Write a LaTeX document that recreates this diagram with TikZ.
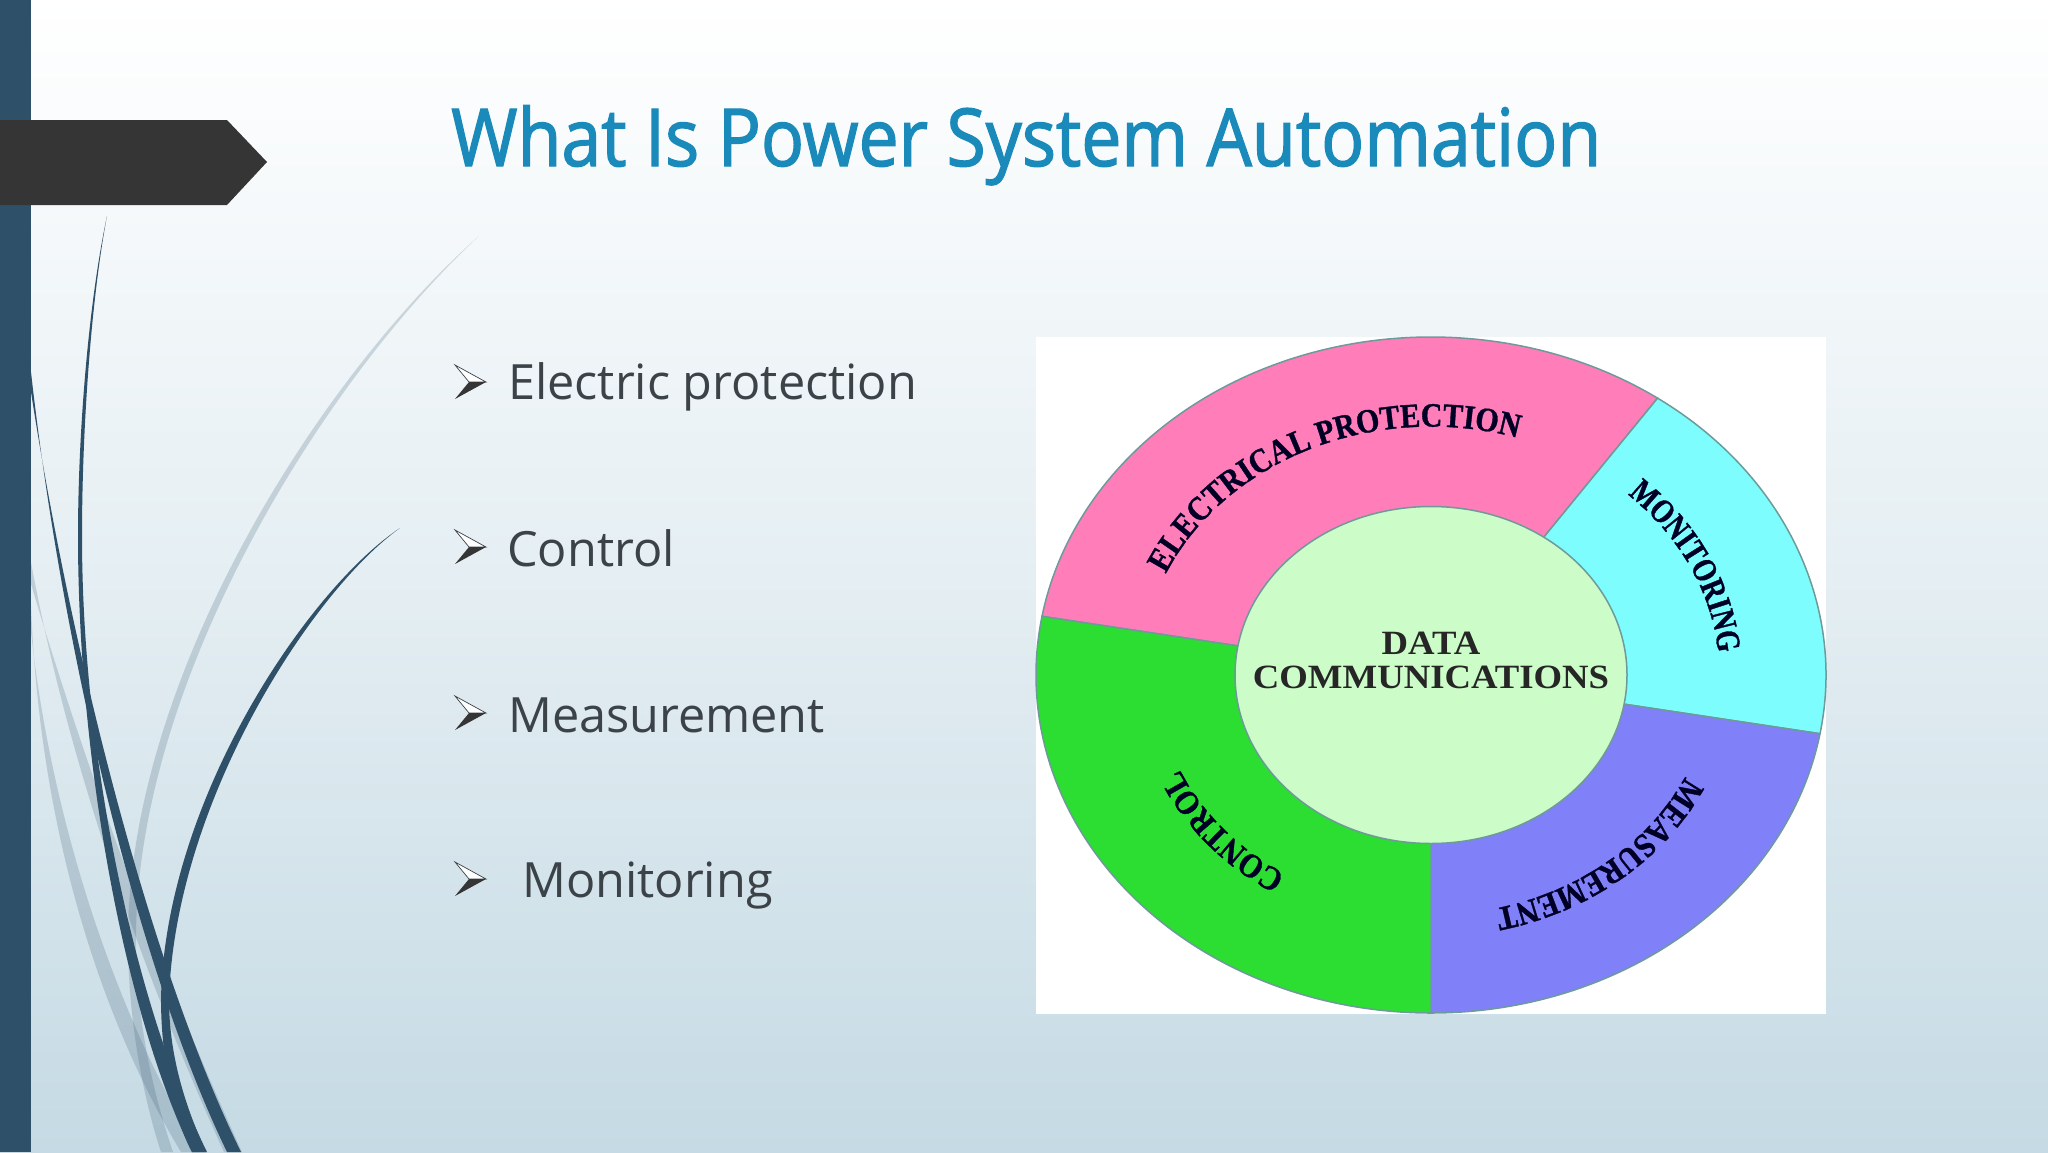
\documentclass[tikz,border=0pt]{standalone}
\usepackage{fontspec}
\usetikzlibrary{decorations.text}
\setmainfont{Liberation Serif}
\newfontfamily\titlefont[FakeStretch=0.895,FakeBold=1.6]{Open Sans}
\newfontfamily\bodyfont{Open Sans}
\newfontfamily\ringnarrow[FakeStretch=0.80,FakeBold=1]{Liberation Serif Bold}
\newfontfamily\ringwide[FakeStretch=0.88,FakeBold=1]{Liberation Serif Bold}
\newfontfamily\centrefont[FakeStretch=1.08]{Liberation Serif Bold}
\definecolor{barblue}{HTML}{2F5069}
\definecolor{pointer}{HTML}{363536}
\definecolor{titleblue}{HTML}{1A8ABB}
\definecolor{bodytext}{HTML}{3B4248}
\definecolor{bgbottom}{HTML}{C5DAE4}
\definecolor{ringline}{HTML}{6E9A9A}
\definecolor{ringpink}{HTML}{FF7DB8}
\definecolor{ringcyan}{HTML}{7DFDFD}
\definecolor{ringblue}{HTML}{8080F8}
\definecolor{ringgreen}{HTML}{2CDD32}
\definecolor{ringcentre}{HTML}{CCFCC8}
\tikzset{
  darkcurve/.style={fill=barblue},
  graycurve/.style={fill=barblue,fill opacity=0.2},
  bodyline/.style={anchor=base west,inner sep=0pt,text=bodytext,font=\bodyfont\fontsize{48.6}{48.6}\selectfont},
  sector/.style={draw=ringline,line width=1.5pt,fill=#1},
}
\newcommand{\ringsector}[3]{\path[sector=#1] (ringc) -- ++(#2:395 and 338) arc[start angle=#2,end angle=#3,x radius=395,y radius=338] -- cycle;}
\newcommand{\ringlabel}[5]{\path[decorate,decoration={text along path,text align={left},text={|#5\fontsize{34}{34}\selectfont\color{black!85!blue}|#1}}] (ringc) ++(#2:#4*395 and #4*338) arc[start angle=#2,end angle=#3,x radius=#4*395,y radius=#4*338];}
\begin{document}
\begin{tikzpicture}[x=1pt,y=-1pt]
\useasboundingbox (0,0) rectangle (2048,1152);
\clip (0,0) rectangle (2048,1152);
% background
\shade[top color=white,bottom color=bgbottom,middle color=white!55!bgbottom] (0,0) rectangle (2048,1152);
% gray sweeps
\path[graycurve] (31,562) .. controls (68,764) and (143,974) .. (224,1152) -- (242,1152) .. controls (157,966) and (82,756) .. (31,584) -- cycle;
\path[graycurve] (31,604) .. controls (39,824) and (98,1014) .. (181,1152) -- (199,1152) .. controls (112,1006) and (51,816) .. (31,632) -- cycle;
\path[graycurve] (479,236) .. controls (318,378) and (128,680) .. (128,939) .. controls (128,1020) and (143,1097) .. (161,1152) -- (173,1152) .. controls (153,1093) and (136,1020) .. (136,939) .. controls (136,682) and (322,382) .. (479,236) -- cycle;
% dark sweeps
\path[darkcurve] (107,216) .. controls (89,300) and (78,430) .. (78,536) .. controls (78,760) and (124,1012) .. (192,1152) -- (207,1152) .. controls (136,1008) and (82,760) .. (82,536) .. controls (82,430) and (91,300) .. (107,216) -- cycle;
\path[darkcurve] (31,372) .. controls (61,640) and (135,962) .. (227,1152) -- (241,1152) .. controls (146,958) and (69,638) .. (31,392) -- cycle;
\path[darkcurve] (400,528) .. controls (308,589) and (165,800) .. (161,999) .. controls (161,1060) and (174,1118) .. (192,1152) -- (206,1152) .. controls (188,1112) and (169,1060) .. (169,999) .. controls (175,802) and (312,591) .. (400,528) -- cycle;
% left bar and pointer
\fill[barblue] (0,0) rectangle (31,1152);
\fill[pointer] (0,120) -- (227,120) -- (267,162) -- (227,205) -- (0,205) -- cycle;
% title
\node[anchor=base west,inner sep=0pt,text=titleblue,font=\titlefont\fontsize{80}{80}\selectfont] (title) at (451,166) {What Is Power System Automation};
% bullets
\foreach \yy in {382,547,713,879}{
  \draw[bodytext,line width=0.7pt,fill=white,line join=miter] (455,\yy-17) -- (486,\yy) -- (469,\yy) -- cycle;
  \fill[pointer] (455,\yy+17) -- (486,\yy) -- (469,\yy) -- cycle;
}
\node[bodyline] (b1) at (508,399) {Electric protection};
\node[bodyline] (b2) at (507,566) {Control};
\node[bodyline] (b3) at (508,732) {Measurement};
\node[bodyline] (b4) at (522,897) {Monitoring};
% image panel
\fill[white] (1036,337) rectangle (1826,1014);
\coordinate (ringc) at (1431,675);
\ringsector{ringpink}{-170}{-55}
\ringsector{ringcyan}{-55}{10}
\ringsector{ringblue}{10}{90}
\ringsector{ringgreen}{90}{190}
\draw[sector=ringcentre] (ringc) ellipse[x radius=196,y radius=168.5];
\ringlabel{ELECTRICAL PROTECTION}{-156}{-50}{0.735}{\ringwide}
\ringlabel{MONITORING}{-47}{10}{0.73}{\ringnarrow}
\ringlabel{MEASUREMENT}{25}{89}{0.71}{\ringwide}
\ringlabel{CONTROL}{122}{175}{0.695}{\ringwide}
\node[inner sep=0pt,align=center,font=\centrefont\fontsize{34}{34}\selectfont,text=black!85] (centre) at (1431,660) {DATA\\COMMUNICATIONS};
\end{tikzpicture}
\end{document}
